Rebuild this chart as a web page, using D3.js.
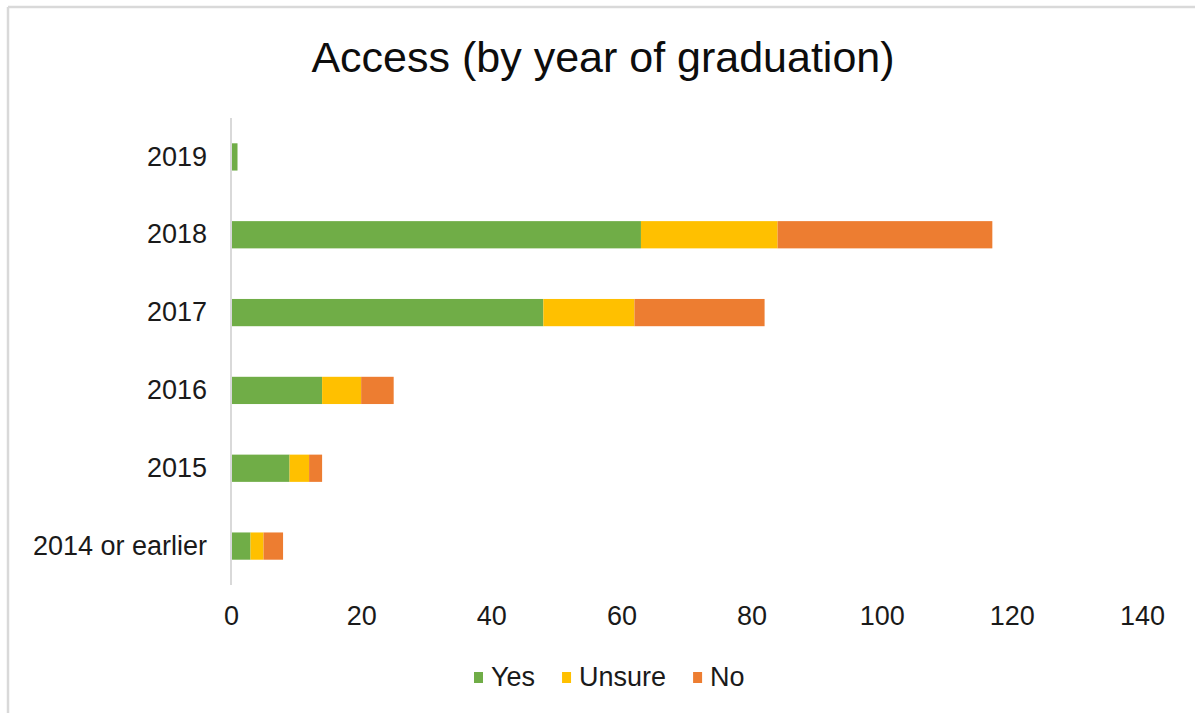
<!DOCTYPE html>
<html>
<head>
<meta charset="utf-8">
<script src="https://cdn.jsdelivr.net/npm/d3@7"></script>
<style>
  html, body { margin: 0; padding: 0; background: #ffffff; }
  svg { display: block; font-family: "Liberation Sans", Arial, sans-serif; }
</style>
</head>
<body>
<svg id="chart" width="1195" height="713"></svg>
<script>
// Graduation-year groups, top to bottom
const categories = ["2019", "2018", "2017", "2016", "2015", "2014 or earlier"];
// Responses per group
const yesValues    = [1, 63, 48, 14, 9, 3];
const unsureValues = [0, 21, 14, 6, 3, 2];
const noValues     = [0, 33, 20, 5, 2, 3];
const seriesNames  = ["Yes", "Unsure", "No"];
const seriesColors = ["#70ad47", "#ffc000", "#ed7d31"];
const xTicks = [0, 20, 40, 60, 80, 100, 120, 140];
const titleText = "Access (by year of graduation)";

const svg = d3.select("#chart");
const W = 1195, H = 713;

// outer chart frame (top and left edges visible)
svg.append("line").attr("x1", 8).attr("x2", W).attr("y1", 7).attr("y2", 7)
  .attr("stroke", "#d9d9d9").attr("stroke-width", 2.5);
svg.append("line").attr("x1", 8).attr("x2", 8).attr("y1", 7).attr("y2", H)
  .attr("stroke", "#d9d9d9").attr("stroke-width", 2.5);

const plot = { left: 231, right: 1142, top: 118, bottom: 585 };

const x = d3.scaleLinear().domain([0, 140]).range([plot.left, plot.right]);
const y = d3.scaleBand().domain(categories).range([plot.top, plot.bottom])
  .paddingInner(0.65).paddingOuter(0.325);

// stack the three series
const rows = categories.map((c, i) => ({
  cat: c, Yes: yesValues[i], Unsure: unsureValues[i], No: noValues[i]
}));
const stacked = d3.stack().keys(seriesNames)(rows);

const bars = svg.append("g");
stacked.forEach((layer, si) => {
  bars.selectAll(null).data(layer).enter().append("rect")
    .attr("x", d => x(d[0]))
    .attr("width", d => Math.max(0, x(d[1]) - x(d[0])))
    .attr("y", d => y(d.data.cat))
    .attr("height", y.bandwidth())
    .attr("fill", seriesColors[si]);
});

// category axis line
svg.append("line")
  .attr("x1", x(0)).attr("x2", x(0))
  .attr("y1", plot.top).attr("y2", plot.bottom)
  .attr("stroke", "#d9d9d9").attr("stroke-width", 2);

// category labels
const yAxis = svg.append("g").attr("transform", `translate(${x(0)},0)`)
  .call(d3.axisLeft(y).tickSize(0).tickPadding(24));
yAxis.select(".domain").remove();
yAxis.selectAll("text")
  .attr("font-size", 27).attr("fill", "#1a1a1a")
  .attr("font-family", "Liberation Sans, Arial, sans-serif");

// value axis labels
const xAxis = svg.append("g").attr("transform", `translate(0,${plot.bottom})`)
  .call(d3.axisBottom(x).tickValues(xTicks).tickSize(0).tickPadding(21));
xAxis.select(".domain").remove();
xAxis.selectAll("text")
  .attr("font-size", 27).attr("fill", "#1a1a1a")
  .attr("font-family", "Liberation Sans, Arial, sans-serif");

// title
svg.append("text")
  .attr("x", 603).attr("y", 72)
  .attr("text-anchor", "middle")
  .attr("font-size", 43).attr("fill", "#0d0d0d")
  .text(titleText);

// legend
const legend = svg.append("g");
const legendY = 686;
let lx = 474;
seriesNames.forEach((name, i) => {
  legend.append("rect")
    .attr("x", lx).attr("y", legendY - 14)
    .attr("width", 9).attr("height", 11)
    .attr("fill", seriesColors[i]);
  const t = legend.append("text")
    .attr("x", lx + 17).attr("y", legendY)
    .attr("font-size", 27).attr("fill", "#1a1a1a")
    .text(name);
  lx += 17 + t.node().getComputedTextLength() + 27;
});
</script>
</body>
</html>
